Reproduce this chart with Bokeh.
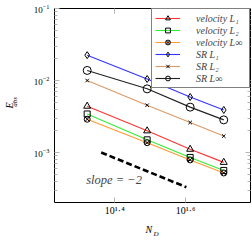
from bokeh.plotting import figure
from bokeh.models import (Range1d, FixedTicker, LogAxis, LogTickFormatter,
                          CustomJSTickFormatter, Legend, LegendItem, Label)
from bokeh.embed import file_html
from bokeh.resources import INLINE

# ---- data ----
N_D = [21, 31, 41, 51]
vel_L1 = [4.4e-3, 2.0e-3, 1.11e-3, 7.3e-4]
vel_L2 = [3.43e-3, 1.5e-3, 8.55e-4, 5.64e-4]
vel_Linf = [2.9e-3, 1.37e-3, 7.9e-4, 5.2e-4]
sr_L1 = [2.25e-2, 1.05e-2, 5.9e-3, 3.9e-3]
sr_L2 = [1.0e-2, 4.54e-3, 2.61e-3, 1.69e-3]
sr_Linf = [1.38e-2, 7.66e-3, 4.27e-3, 2.84e-3]

slope_x = [23, 40]
slope_y = [1.0e-3, 3.3e-4]
slope_text = "slope = −2"

x_tick_exps = [1.4, 1.6]
x_tick_values = [10 ** e for e in x_tick_exps]
y_major = [1e-3, 1e-2, 1e-1]
y_minor = [m * 10.0 ** k for k in (-4, -3, -2) for m in range(2, 10)]

labels = ["velocity L₁", "velocity L₂", "velocity L∞", "SR L₁", "SR L₂", "SR L∞"]

FONT = "Liberation Serif"
TICK = "#b4b4b4"
NB = "\u00a0"

p = figure(width=252, height=240, x_axis_type="log", y_axis_type="log",
           x_axis_location=None, y_axis_location=None,
           x_range=Range1d(10 ** 1.23, 10 ** 1.783),
           y_range=Range1d(10 ** -3.694, 10 ** -1),
           output_backend="svg", toolbar_location=None,
           min_border_left=48, min_border_right=2, min_border_top=8,
           min_border_bottom=34)
p.grid.visible = False
p.outline_line_color = "black"
p.outline_line_width = 1
p.outline_line_alpha = 1
p.background_fill_color = "white"
p.border_fill_color = "white"

blank = CustomJSTickFormatter(code="return ''")
sup_fmt = CustomJSTickFormatter(code="""
const sup = {'0':'⁰','1':'¹','2':'²','3':'³','4':'⁴','5':'⁵','6':'⁶','7':'⁷','8':'⁸','9':'⁹','.':'·','-':'⁻'};
const e = (Math.log(tick) / Math.LN10).toFixed(1);
return '10' + e.split('').map(c => sup[c]).join('');
""")
xt = FixedTicker(ticks=x_tick_values, minor_ticks=[])
yt = FixedTicker(ticks=y_major, minor_ticks=y_minor)
none_t = FixedTicker(ticks=[], minor_ticks=[])


def style_ticks(ax):
    ax.axis_line_color = None
    ax.major_tick_in = 5
    ax.major_tick_out = 0
    ax.minor_tick_in = 3
    ax.minor_tick_out = 0
    ax.major_tick_line_color = TICK
    ax.minor_tick_line_color = TICK


def title_axis(ax, text, size, standoff):
    ax.axis_line_color = None
    ax.major_tick_line_color = None
    ax.minor_tick_line_color = None
    ax.major_tick_out = 0
    ax.minor_tick_out = 0
    ax.major_label_text_font_size = "0px"
    ax.major_label_standoff = 0
    ax.axis_label = text
    ax.axis_label_text_font = FONT
    ax.axis_label_text_font_style = "italic"
    ax.axis_label_text_font_size = size
    ax.axis_label_text_color = "black"
    ax.axis_label_standoff = standoff


# bottom: ticks + 10^x labels + "N"; then "D" pulled up beside it
xa = LogAxis(ticker=xt, formatter=sup_fmt)
style_ticks(xa)
xa.major_label_text_font = FONT
xa.major_label_text_font_size = "10px"
xa.major_label_text_color = "black"
xa.major_label_standoff = 2
xa.axis_label = "N" + NB * 3
xa.axis_label_text_font = FONT
xa.axis_label_text_font_style = "italic"
xa.axis_label_text_font_size = "10px"
xa.axis_label_text_color = "black"
xa.axis_label_standoff = 5
p.add_layout(xa, "below")
xd = LogAxis(ticker=none_t, formatter=blank)
title_axis(xd, NB * 4 + "D", "7px", -8)
p.add_layout(xd, "below")

# left: ticks + 10^k labels + "abs"; then "E" outside
ya = LogAxis(ticker=yt, formatter=LogTickFormatter())
style_ticks(ya)
ya.major_label_text_font = FONT
ya.major_label_text_font_size = "9px"
ya.major_label_text_color = "black"
ya.major_label_standoff = 5
ya.axis_label = NB * 4 + "abs"
ya.axis_label_text_font = FONT
ya.axis_label_text_font_style = "italic"
ya.axis_label_text_font_size = "7px"
ya.axis_label_text_color = "black"
ya.axis_label_standoff = 12
p.add_layout(ya, "left")
yb = LogAxis(ticker=none_t, formatter=blank)
title_axis(yb, "E", "10px", -7)
p.add_layout(yb, "left")

# mirrored ticks on top and right
top = LogAxis(ticker=xt, formatter=blank)
right = LogAxis(ticker=yt, formatter=blank)
for ax in (top, right):
    style_ticks(ax)
    ax.major_label_text_font_size = "0px"
    ax.major_label_standoff = 0
p.add_layout(top, "above")
p.add_layout(right, "right")

series = [
    (vel_L1, "#ff3333", "triangle", 7),
    (vel_L2, "#33ee33", "square", 6),
    (vel_Linf, "#ff9933", "circle_x", 6),
    (sr_L1, "#3333ff", "diamond", 7),
    (sr_L2, "#d99a66", "x", 5),
    (sr_Linf, "#222222", "circle", 8),
]
items = []
for (vals, col, mk, sz), lab in zip(series, labels):
    lr = p.line(N_D, vals, line_color=col, line_width=1.1)
    sr = p.scatter(N_D, vals, marker=mk, size=sz, line_color="black",
                   line_width=1, fill_color=None)
    items.append(LegendItem(label=lab, renderers=[lr, sr]))

p.line(slope_x, slope_y, line_color="black", line_width=2.6, line_dash="6 3")
p.add_layout(Label(x=25, y=4.2e-4, text=slope_text, text_font=FONT,
                   text_font_style="italic", text_font_size="12.5px",
                   text_align="center", text_baseline="middle"))

legend = Legend(items=items, location="top_right", margin=0, padding=3,
                spacing=0, glyph_width=25, glyph_height=12, label_height=12,
                label_width=50, label_standoff=16, label_text_font=FONT,
                label_text_font_style="italic", label_text_font_size="10px",
                border_line_color="black", border_line_width=1,
                background_fill_color="white", background_fill_alpha=1)
p.add_layout(legend)

open("out.html", "w").write(file_html(p, INLINE))
